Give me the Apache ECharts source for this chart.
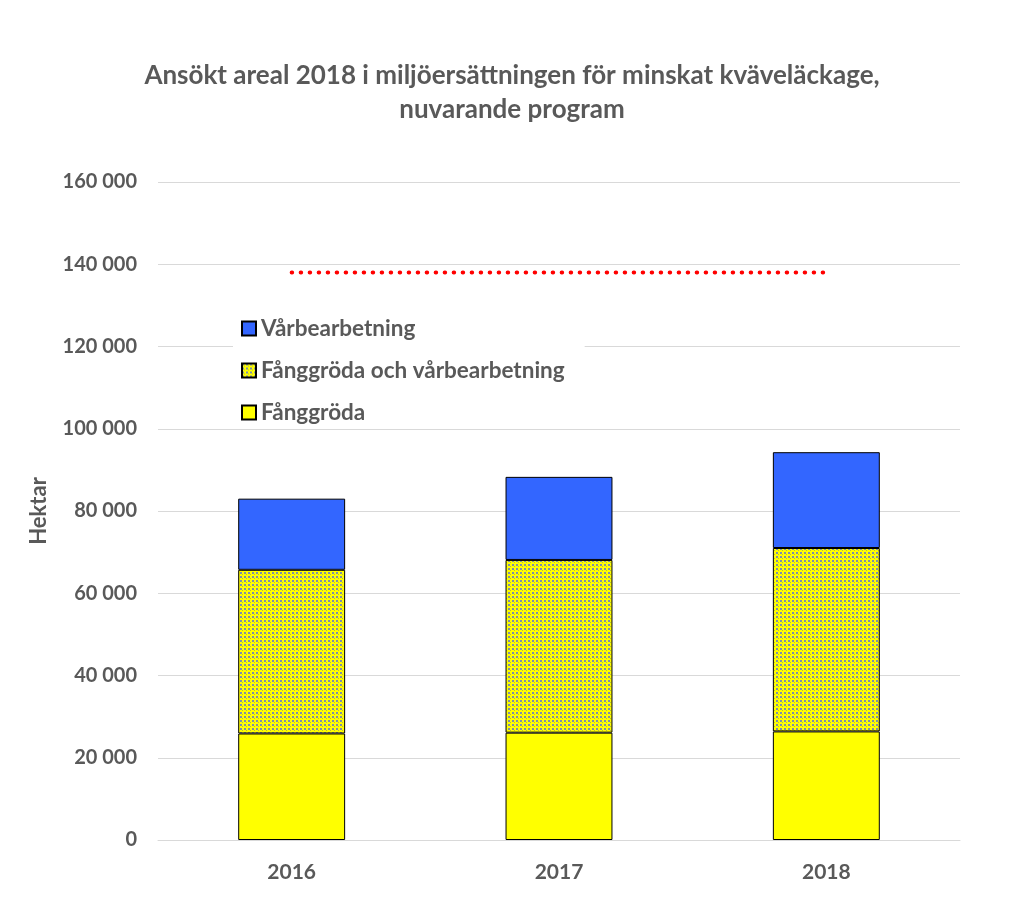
<!DOCTYPE html>
<html><head><meta charset="utf-8">
<script src="https://cdn.jsdelivr.net/npm/echarts@6/dist/echarts.min.js"></script>
<style>html,body{margin:0;padding:0;background:#fff}#c{width:1024px;height:920px}</style>
</head><body><div id="c"></div>
<script>
const categories = ['2016', '2017', '2018'];
const fanggroda = [25900, 26100, 26400];
const fangOchVar = [39800, 42000, 44600];
const varbearbetning = [17300, 20200, 23300];
const target = [138000, 138000, 138000];
const seriesNames = ['Fånggröda', 'Fånggröda och vårbearbetning', 'Vårbearbetning'];
const titleText = 'Ansökt areal 2018 i miljöersättningen för minskat kväveläckage,\nnuvarande program';

function makePattern() {
  const cv = document.createElement('canvas');
  cv.width = 4; cv.height = 4;
  const ctx = cv.getContext('2d');
  ctx.fillStyle = '#ffff00';
  ctx.fillRect(0, 0, 4, 4);
  ctx.fillStyle = '#7d8fa8';
  ctx.fillRect(0, 0, 2, 2);
  ctx.fillStyle = '#b4b848';
  ctx.fillRect(2, 2, 1, 1);
  return cv;
}
const pattern = { image: makePattern(), repeat: 'repeat' };

const txt = '#595959';
const font = 'Lato, "Open Sans", sans-serif';
const chart = echarts.init(document.getElementById('c'), null, { renderer: 'canvas' });
chart.setOption({
  animation: false,
  backgroundColor: '#fff',
  textStyle: { fontFamily: font },
  title: {
    text: titleText, left: 'center', top: 54,
    textStyle: { fontFamily: font, fontSize: 26, fontWeight: 'bold', color: txt, lineHeight: 34 }
  },
  legend: {
    orient: 'vertical', left: 233, top: 312,
    data: [seriesNames[2], seriesNames[1], seriesNames[0]],
    icon: 'rect',
    backgroundColor: '#fff', padding: [5, 20, 5, 8],
    itemWidth: 14, itemHeight: 14, itemGap: 19,
    textStyle: { fontFamily: font, fontSize: 22.5, fontWeight: 'bold', color: txt }
  },
  grid: { left: 158, right: 64, top: 182, bottom: 80 },
  xAxis: {
    type: 'category', data: categories,
    axisLine: { lineStyle: { color: '#d9d9d9' } }, axisTick: { show: false },
    axisLabel: { fontFamily: font, fontSize: 21, fontWeight: 'bold', color: txt, margin: 22 }
  },
  yAxis: {
    type: 'value', min: 0, max: 160000, interval: 20000,
    name: 'Hektar', nameLocation: 'middle', nameGap: 108, nameRotate: 90,
    nameTextStyle: { fontFamily: font, fontSize: 22, fontWeight: 'bold', color: txt },
    axisLine: { show: false }, axisTick: { show: false },
    splitLine: { lineStyle: { color: '#d9d9d9', width: 1 } },
    axisLabel: {
      fontFamily: font, fontSize: 20, fontWeight: 'bold', color: txt, margin: 21,
      formatter: v => String(v).replace(/\B(?=(\d{3})+(?!\d))/g, ' ')
    }
  },
  series: [
    { name: seriesNames[0], type: 'bar', stack: 's', barWidth: '40%', data: fanggroda,
      itemStyle: { color: '#ffff00', borderColor: '#000', borderWidth: 1 } },
    { name: seriesNames[1], type: 'bar', stack: 's', data: fangOchVar,
      itemStyle: { color: pattern, borderColor: '#000', borderWidth: 1 } },
    { name: seriesNames[2], type: 'bar', stack: 's', data: varbearbetning,
      itemStyle: { color: '#3366ff', borderColor: '#000', borderWidth: 1 } },
    { name: 'Mål', type: 'line', data: target, symbol: 'none', z: 5,
      lineStyle: { color: '#ff0000', width: 4, type: [0.5, 8.5], cap: 'round' } }
  ]
});
</script></body></html>
